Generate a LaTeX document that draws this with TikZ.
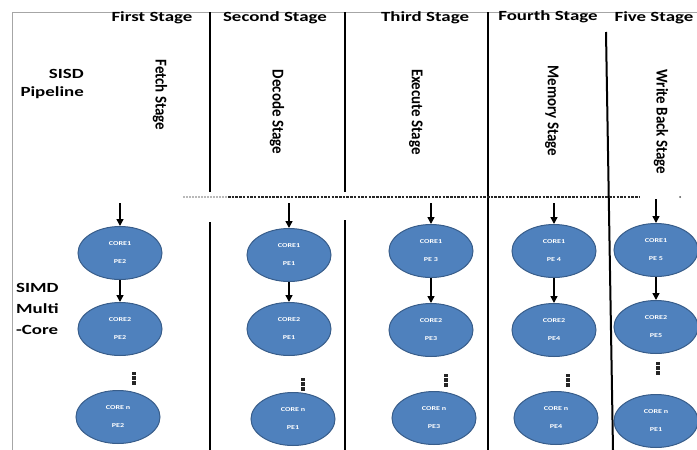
\documentclass[tikz,border=0pt]{standalone}
\usepackage{fontspec}
\setmainfont{Carlito}
\usetikzlibrary{shapes.geometric,arrows.meta,calc}
\definecolor{corefill}{HTML}{4F81BD}
\definecolor{coreline}{HTML}{385D8A}
\newcommand{\wide}[1]{\scalebox{1.35}[1]{#1}}
\newcommand{\ctext}[2]{\wide{#1}\\[11pt]\wide{#2}}
\newcommand{\vdotsat}[1]{\fill[black!85] ($(#1)+(-1.7,-6.5)$) rectangle ($(#1)+(1.7,-3.4)$);
  \fill[black!85] ($(#1)+(-1.7,-1.6)$) rectangle ($(#1)+(1.7,1.6)$);
  \fill[black!85] ($(#1)+(-1.7,3.4)$) rectangle ($(#1)+(1.7,6.5)$);}
\begin{document}
\begin{tikzpicture}[x=1pt,y=-1pt,
  core/.style={ellipse,draw=coreline,fill=corefill,line width=1pt,minimum width=84pt,minimum height=53pt,inner sep=0pt,text=white,align=center,font=\fontsize{6}{7}\selectfont\bfseries},
  head/.style={font=\fontsize{14}{17}\selectfont\bfseries,inner sep=0pt},
  vstage/.style={rotate=-90,font=\fontsize{15}{18}\selectfont\bfseries,inner sep=0pt},
  divider/.style={line width=2pt},
  arr/.style={line width=1.5pt,-{Triangle[length=7pt,width=7pt]}},
  frame/.style={line width=0.8pt,draw=gray!70}]

\useasboundingbox (0,0) rectangle (697,450);

% frame
\draw[frame] (697,12) -- (12,12) -- (12,450);

% dividers
\draw[divider] (210,12) -- (210,192);
\draw[divider] (210,222) -- (210,450);
\draw[divider] (345,12) -- (345,192);
\draw[divider] (345,220) -- (345,450);
\draw[divider] (488,12) -- (488,450);
\draw[divider] (606,32) -- (613,450);

% dotted separator
\draw[gray!55,line width=1.2pt,dash pattern=on 1.5pt off 1.5pt] (183,197) -- (228,197);
\draw[black!85,line width=1.5pt,dash pattern=on 2.5pt off 1.2pt] (228,197) -- (640,197);
\fill[black!70] (680,197) circle (1pt);

% headers
\node[head] (h1) at (152,18) {\wide{First Stage}};
\node[head] (h2) at (275,18) {\wide{Second Stage}};
\node[head] (h3) at (425,18) {\wide{Third Stage}};
\node[head] (h4) at (548,17) {\wide{Fourth Stage}};
\node[head] (h5) at (654,18) {\wide{Five Stage}};

% row labels
\node[head,anchor=east,align=right,font=\fontsize{14}{18}\selectfont\bfseries] (sisd) at (84,84) {\wide{SISD}\\\wide{Pipeline}};
\node[head,anchor=west,align=left,font=\fontsize{14}{21}\selectfont\bfseries] (simd) at (16,309) {\wide{SIMD}\\\wide{Multi}\\\wide{-Core}};

% SISD stages
\node[vstage] (s1) at (160,95) {\scalebox{1}[1.1]{Fetch Stage}};
\node[vstage] (s2) at (277,112) {\scalebox{1}[1.1]{Decode Stage}};
\node[vstage] (s3) at (416,112) {\scalebox{1}[1.1]{Execute Stage}};
\node[vstage] (s4) at (552,111) {\scalebox{1}[1.1]{Memory Stage}};
\node[vstage] (s5) at (661,122) {\scalebox{1}[1.1]{Write Back Stage}};

% column 1
\coordinate (t1) at (120,203);
\node[core] (a1) at (120,253) {\ctext{CORE1}{PE2}};
\node[core] (a2) at (120,329) {\ctext{CORE2}{PE2}};
\coordinate (ad) at (134,378);
\node[core] (a3) at (118,417) {\ctext{CORE n}{PE2}};
\draw[arr] (t1) -- (a1.north);
\draw[arr] (a1.south) -- (a2.north);
\vdotsat{ad}

% column 2
\coordinate (t2) at (289,203);
\node[core] (b1) at (289,255) {\ctext{CORE1}{PE1}};
\node[core] (b2) at (289,329) {\ctext{CORE2}{PE1}};
\coordinate (bd) at (303,384);
\node[core] (b3) at (293,419) {\ctext{CORE n}{PE1}};
\draw[arr] (t2) -- (b1.north);
\draw[arr] (b1.south) -- (b2.north);
\vdotsat{bd}

% column 3
\coordinate (t3) at (431,203);
\node[core] (c1) at (431,251) {\ctext{CORE1}{PE 3}};
\node[core] (c2) at (431,330) {\ctext{CORE2}{PE3}};
\coordinate (cd) at (446,380);
\node[core] (c3) at (434,418) {\ctext{CORE n}{PE3}};
\draw[arr] (t3) -- (c1.north);
\draw[arr] (c1.south) -- (c2.north);
\vdotsat{cd}

% column 4
\coordinate (t4) at (554,203);
\node[core] (d1) at (554,251) {\ctext{CORE1}{PE 4}};
\node[core] (d2) at (554,330) {\ctext{CORE2}{PE4}};
\coordinate (dd) at (568,380);
\node[core] (d3) at (556,418) {\ctext{CORE n}{PE4}};
\draw[arr] (t4) -- (d1.north);
\draw[arr] (d1.south) -- (d2.north);
\vdotsat{dd}

% column 5
\coordinate (t5) at (656,199);
\node[core] (e1) at (656,250) {\ctext{CORE1}{PE 5}};
\node[core] (e2) at (656,327) {\ctext{CORE2}{PE5}};
\coordinate (ed) at (658,368);
\node[core] (e3) at (656,421) {\ctext{CORE n}{PE1}};
\draw[arr] (t5) -- (e1.north);
\draw[arr] (e1.south) -- (e2.north);
\vdotsat{ed}

\end{tikzpicture}
\end{document}
